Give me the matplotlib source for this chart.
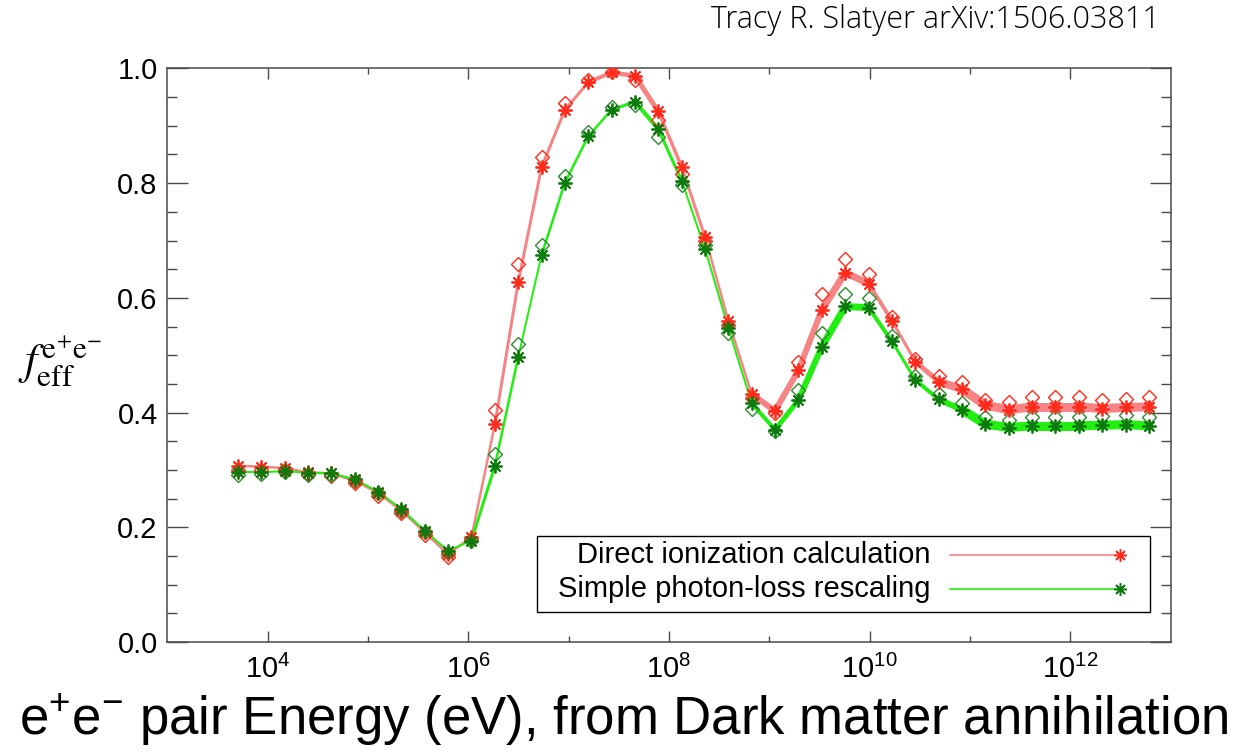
import numpy as np
import matplotlib
matplotlib.use("Agg")
import matplotlib.pyplot as plt
from matplotlib.collections import LineCollection
from matplotlib.ticker import FixedLocator, NullFormatter

plt.rcParams['font.family'] = ['Liberation Sans', 'DejaVu Sans']
plt.rcParams['mathtext.fontset'] = 'custom'
plt.rcParams['mathtext.rm'] = 'Liberation Sans'
plt.rcParams['mathtext.it'] = 'Liberation Sans:italic'

# injected e+e- energies (eV)
energy = [5.05e3, 8.63e3, 1.475e4, 2.52e4, 4.31e4, 7.37e4, 1.26e5, 2.15e5,
          3.68e5, 6.29e5, 1.075e6, 1.84e6, 3.14e6, 5.37e6, 9.18e6, 1.57e7,
          2.68e7, 4.58e7, 7.83e7, 1.34e8, 2.29e8, 3.91e8, 6.68e8, 1.14e9,
          1.95e9, 3.34e9, 5.70e9, 9.75e9, 1.67e10, 2.85e10, 4.87e10, 8.32e10,
          1.42e11, 2.43e11, 4.16e11, 7.10e11, 1.21e12, 2.07e12, 3.55e12, 6.07e12]

# direct ionization calculation
direct = [0.307, 0.306, 0.303, 0.296, 0.294, 0.281, 0.260, 0.229, 0.191, 0.153,
          0.183, 0.380, 0.627, 0.828, 0.928, 0.976, 0.993, 0.987, 0.925, 0.828,
          0.706, 0.560, 0.432, 0.403, 0.474, 0.579, 0.644, 0.625, 0.560, 0.489,
          0.454, 0.441, 0.413, 0.405, 0.410, 0.410, 0.410, 0.407, 0.409, 0.410]
direct_alt = [0.300, 0.300, 0.300, 0.293, 0.290, 0.277, 0.255, 0.225, 0.187, 0.148,
              0.180, 0.405, 0.659, 0.845, 0.939, 0.980, 0.994, 0.980, 0.910, 0.816,
              0.700, 0.553, 0.425, 0.400, 0.489, 0.606, 0.667, 0.642, 0.567, 0.494,
              0.463, 0.454, 0.422, 0.418, 0.427, 0.427, 0.427, 0.422, 0.424, 0.427]

# simple photon-loss rescaling
rescaled = [0.296, 0.296, 0.298, 0.295, 0.294, 0.284, 0.262, 0.232, 0.194, 0.159,
            0.177, 0.307, 0.497, 0.675, 0.801, 0.882, 0.928, 0.942, 0.894, 0.804,
            0.685, 0.547, 0.416, 0.370, 0.422, 0.515, 0.585, 0.583, 0.524, 0.457,
            0.423, 0.405, 0.380, 0.374, 0.377, 0.377, 0.377, 0.378, 0.379, 0.377]
rescaled_alt = [0.292, 0.293, 0.296, 0.292, 0.292, 0.281, 0.259, 0.229, 0.191, 0.156,
                0.177, 0.327, 0.519, 0.693, 0.813, 0.890, 0.933, 0.936, 0.880, 0.796,
                0.692, 0.538, 0.406, 0.368, 0.440, 0.539, 0.607, 0.599, 0.534, 0.464,
                0.432, 0.416, 0.392, 0.387, 0.393, 0.393, 0.393, 0.394, 0.395, 0.393]

labels = ['Direct ionization calculation', 'Simple photon-loss rescaling']

# line thickness per segment (pixels)
red_w = [2.5] * 10 + [2.5, 3, 3, 3, 3, 4, 4.5, 5, 3.5, 3, 2.5, 2.5, 6, 6, 6, 7, 7, 4,
                      3, 5, 8] + [9] * 8
green_w = [2] * 10 + [3, 2.5, 2, 2.5, 2.5, 2.5, 3, 4, 3, 2, 2, 2, 4, 5, 6, 7, 7, 4,
                      3, 4, 6] + [9] * 8

RED_LINE = '#f68484'
GREEN_LINE = '#22ee11'
RED_MK = '#ff2a1a'
GREEN_MK = '#0c7a0c'
GREEN_DIA = '#2e8b2e'
ASTER = (8, 2, 0)

fig = plt.figure(figsize=(12.47, 7.54), dpi=100)
ax = fig.add_axes([0.1342, 0.1485, 0.8046, 0.7607])
ax.set_xscale('log')


def band(x, y, widths, color):
    segs = [[(x[i], y[i]), (x[i + 1], y[i + 1])] for i in range(len(x) - 1)]
    lc = LineCollection(segs, colors=color, linewidths=[w * 0.72 for w in widths],
                        capstyle='round', joinstyle='round', zorder=2)
    ax.add_collection(lc)


band(energy, direct, red_w, RED_LINE)
band(energy, rescaled, green_w, GREEN_LINE)

ax.plot(energy, direct_alt, ls='none', marker='D', ms=7.5, mfc='none',
        mec=RED_MK, mew=1.0, zorder=3)
ax.plot(energy, rescaled_alt, ls='none', marker='D', ms=7.5, mfc='none',
        mec=GREEN_DIA, mew=1.0, zorder=3)
ax.plot(energy, direct, ls='none', marker=ASTER, ms=10, mec=RED_MK, mew=1.3, zorder=4)
ax.plot(energy, rescaled, ls='none', marker=ASTER, ms=10, mec=GREEN_MK, mew=1.3, zorder=4)

ax.set_xlim(1e3, 1e13)
ax.set_ylim(0, 1)

ax.xaxis.set_major_locator(FixedLocator([1e4, 1e6, 1e8, 1e10, 1e12]))
ax.xaxis.set_minor_locator(FixedLocator([1e5, 1e7, 1e9, 1e11]))
ax.xaxis.set_minor_formatter(NullFormatter())
ax.set_xticklabels([r'$10^{4}$', r'$10^{6}$', r'$10^{8}$', r'$10^{10}$', r'$10^{12}$'])
ax.set_yticks([0, 0.2, 0.4, 0.6, 0.8, 1.0])
ax.set_yticklabels(['0.0', '0.2', '0.4', '0.6', '0.8', '1.0'])
ax.yaxis.set_minor_locator(FixedLocator(np.arange(0.05, 1.0, 0.05)))

spine_c = '#4a4a4a'
for s in ax.spines.values():
    s.set_color(spine_c)
    s.set_linewidth(1.1)
ax.tick_params(axis='both', which='both', direction='in', top=True, right=True,
               color=spine_c, width=1.0, labelsize=21)
ax.tick_params(axis='x', which='major', length=8, pad=9)
ax.tick_params(axis='x', which='minor', length=4)
ax.tick_params(axis='y', which='major', length=15, pad=7)
ax.tick_params(axis='y', which='minor', length=7)

# legend, IDL style: text on the left, line + symbol on the right
ax.add_patch(plt.Rectangle((0.3685, 0.0523), 0.6109, 0.1325, transform=ax.transAxes,
                           fill=False, ec='black', lw=1.0, zorder=5))
for yy, lab, lc, mc in [(0.1517, labels[0], RED_LINE, RED_MK),
                        (0.0924, labels[1], GREEN_LINE, GREEN_MK)]:
    ax.text(0.761, yy, lab, transform=ax.transAxes, ha='right', va='center',
            fontsize=21, zorder=6)
    ax.plot([0.780, 0.949], [yy, yy], transform=ax.transAxes, color=lc, lw=1.2, zorder=6)
    ax.plot([0.949], [yy], transform=ax.transAxes, ls='none', marker=ASTER, ms=9,
            mec=mc, mew=1.1, zorder=7)

fig.text(60 / 1247, 1 - 362 / 754, r'$f_{\rm eff}^{\rm e^{+}e^{-}}$', fontsize=32,
         ha='center', va='center', math_fontfamily='stix')
fig.text(0.5, 1 - 720 / 754, r'$\mathrm{e^{+}e^{-}}$ pair Energy (eV), from Dark matter annihilation',
         fontsize=38, ha='center', va='center')
fig.text(1160 / 1247, 1 - 28 / 754, 'Tracy R. Slatyer arXiv:1506.03811',
         fontsize=22, fontweight='light', ha='right', va='baseline',
         family=['Open Sans', 'DejaVu Sans'])

fig.savefig('out.png', dpi=100)
